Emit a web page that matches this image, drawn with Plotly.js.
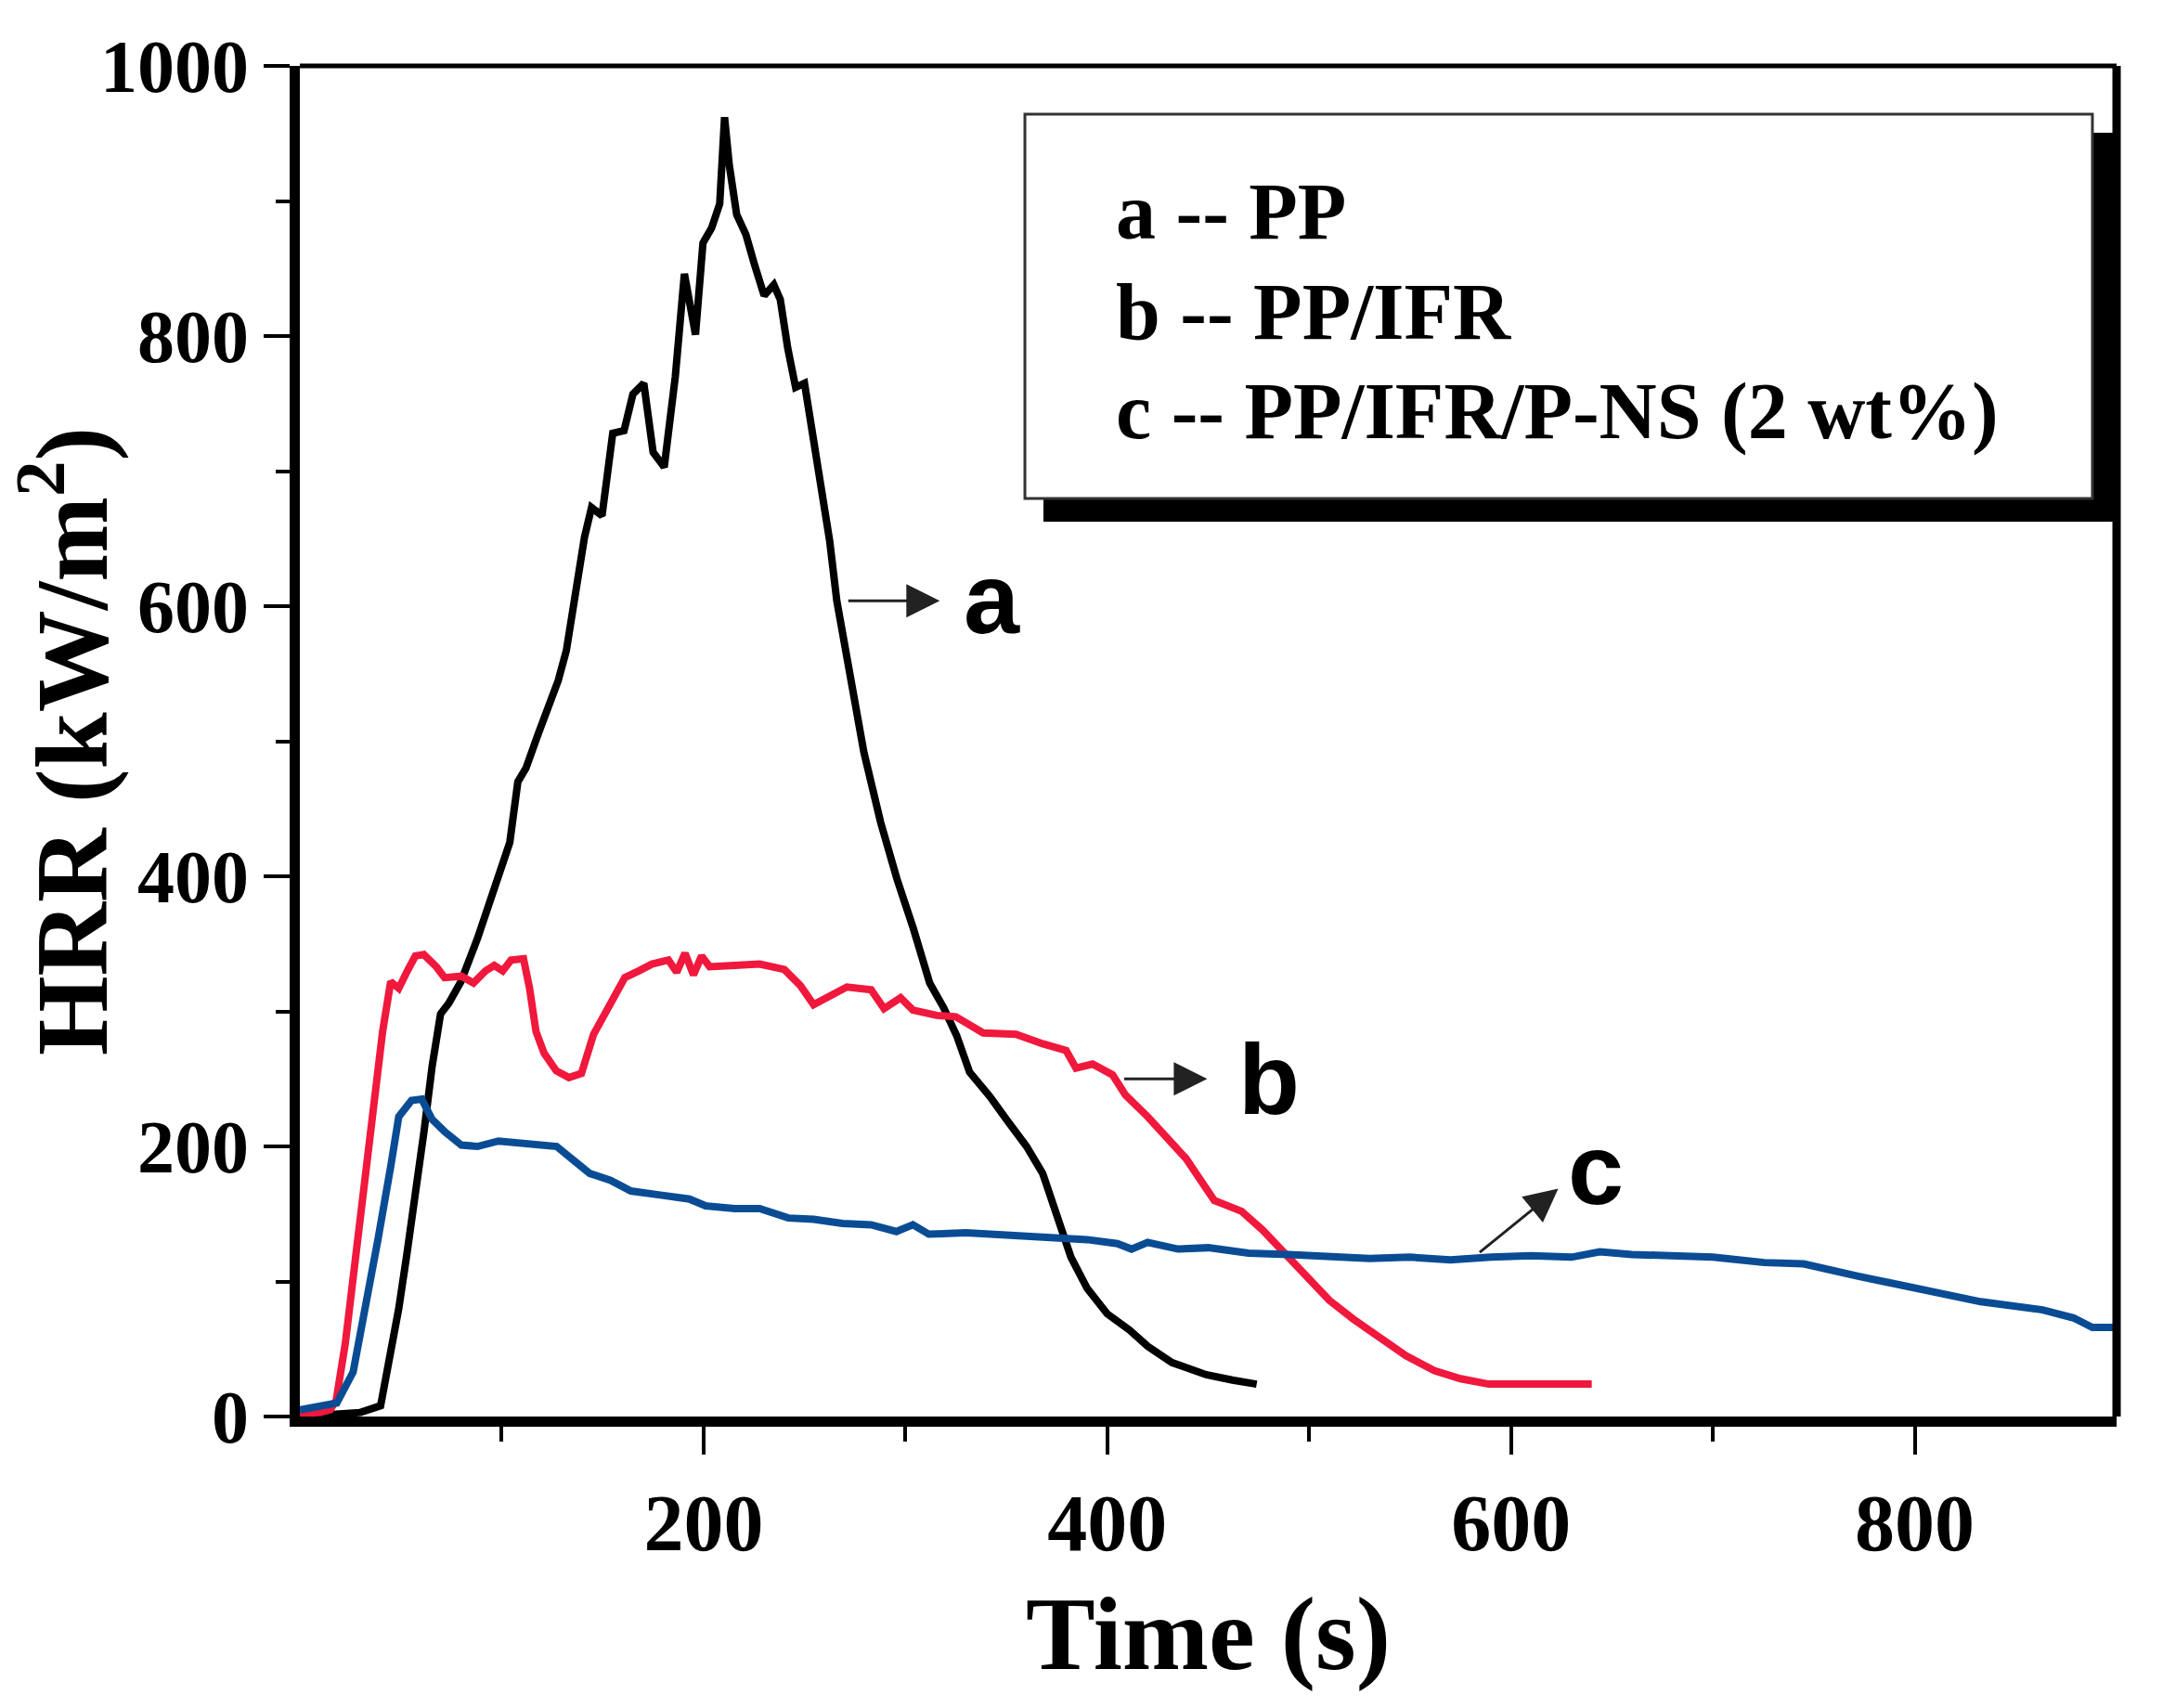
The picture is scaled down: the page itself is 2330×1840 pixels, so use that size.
<!DOCTYPE html>
<html>
<head>
<meta charset="utf-8">
<script src="https://cdn.plot.ly/plotly-3.0.1.min.js"></script>
<style>
  body { margin: 0; background: #fff; }
  #chart { width: 2330px; height: 1840px; }
</style>
</head>
<body>
<div id="chart"></div>
<script>
// a -- PP
const timeA = [0, 10, 20, 30, 40, 44, 49, 53, 57, 61.5, 65.5, 69.7, 73.8, 79.8, 88, 96, 104, 108, 112, 118, 124, 128, 132,
  137, 141, 144.5, 149.7, 155, 160.6, 165, 170.4, 175, 180.5, 186, 190.5, 196, 199.7, 204, 208, 210.4, 212.7, 216.4,
  221, 225, 230, 234.8, 238, 241.7, 245.6, 250, 254, 258, 262.5, 266, 272.8, 279.4, 287.7, 295.8, 304, 312, 318.8,
  325.4, 331.8, 341.8, 350, 360, 368, 375, 382, 390, 400, 411, 420, 432, 449, 462, 474];
const hrrA = [0, 1, 2, 3, 8, 40, 80, 120, 159, 211, 259, 298, 306, 322, 354, 390, 425, 470, 480, 505, 530, 545, 567,
  612, 651, 673, 667, 728, 730, 757, 765, 714, 703, 770, 846, 801, 869, 880, 898, 962, 927, 890,
  875, 854, 830, 838, 827, 791, 762, 765, 728, 688, 648, 604, 545, 492, 440, 398, 361, 321, 303,
  282, 255, 237, 220, 200, 180, 150, 118, 95, 76, 64, 52, 40, 31, 27, 24];

// b -- PP/IFR
const timeB = [0, 10, 15, 18, 22.5, 26, 30.5, 36.8, 41, 45, 49, 53.3, 57.2, 61.4, 67.6, 71.7, 80, 86, 92, 96.3, 100.5,
  104.6, 110.8, 113.8, 117, 121, 127, 133.3, 139.5, 145.5, 151.8, 156, 161, 168, 174.4, 182.6, 186.7, 190.8, 195,
  199, 203, 215.5, 227.8, 240, 248, 254.5, 262.7, 271, 283, 289.4, 297.6, 303.7, 315.5, 325, 338.5, 354.8, 368,
  379.6, 384.5, 392.7, 402.6, 409, 420, 430, 439, 453, 466.5, 477, 487, 495, 510, 522, 534, 548, 562, 575, 589, 610, 640];
const hrrB = [2, 3, 5, 12, 54, 100, 159, 238, 285, 322, 317, 330, 341, 342, 333, 325, 326, 321, 330, 334, 330,
  338, 339, 317, 285, 269, 256, 251, 254, 283, 301, 312, 325, 330, 335, 338, 329, 343, 327,
  341, 333, 334, 335, 331, 319, 305, 312, 318, 316, 302, 310, 301, 297, 296, 284, 283, 276,
  271, 258, 261, 253, 238, 222, 205, 191, 160, 152, 138, 122, 108, 86, 72, 59, 45, 34, 28, 24, 24, 24];

// c -- PP/IFR/P-NS (2 wt%)
const timeC = [0, 10, 18.3, 26.4, 32.7, 38.8, 45, 49, 55.3, 60.4, 65.5, 71.7, 80, 88, 98.4, 112.8, 127.2, 135.4,
  143.6, 153.8, 164, 178.5, 193, 201, 215.5, 227.8, 242, 254.5, 268.8, 283, 295.5, 303.7, 311.6, 330, 350, 370,
  390, 405, 412, 420, 435, 450, 470, 490, 510, 530, 550, 570, 590, 610, 630, 644, 660, 680, 700, 725.5, 745,
  771.5, 802, 832.7, 863.4, 878.7, 888, 898.7];
const hrrC = [5, 8, 10, 33, 80, 132, 185, 222, 234, 235, 220, 211, 201, 200, 204, 202, 200, 190,
  180, 175, 167, 164, 161, 156, 154, 154, 147, 146, 143, 142, 137, 142, 135, 136, 134, 133,
  131, 128, 124, 129, 124, 125, 121, 120, 119, 117, 118, 116, 118, 119, 118, 122, 120, 119, 118, 114, 113,
  104, 95, 85, 79, 73, 66, 66];

const legendLabels = ['a -- PP', 'b -- PP/IFR', 'c -- PP/IFR/P-NS (2 wt%)'];
const curveLabels = ['a', 'b', 'c'];
const xTickVals = [200, 400, 600, 800];
const xMinorVals = [100, 300, 500, 700];
const yTickVals = [0, 200, 400, 600, 800, 1000];
const yMinorVals = [100, 300, 500, 700, 900];

// where each curve label sits and where its arrow runs (tail on the curve, tip near the label)
const labelPos = [[343, 606], [480, 250], [642, 183]];
const arrowTail = [[271, 604], [407.7, 250], [583.8, 120.7]];
const arrowTip = [[317, 604], [449.5, 250], [623.4, 168.8]];

const colors = ['#000000', '#f0183c', '#0a4c94'];
const serif = 'Liberation Serif, Times New Roman, serif';
const sans = 'Liberation Sans, Arial, sans-serif';

const traces = [
  {x: timeA, y: hrrA, name: legendLabels[0]},
  {x: timeB, y: hrrB, name: legendLabels[1]},
  {x: timeC, y: hrrC, name: legendLabels[2]}
].map(function (t, i) {
  t.type = 'scatter';
  t.mode = 'lines';
  t.line = {color: colors[i], width: 8};
  return t;
});

const annotations = [];
curveLabels.forEach(function (lab, i) {
  annotations.push({
    x: arrowTip[i][0], y: arrowTip[i][1], xref: 'x', yref: 'y',
    ax: arrowTail[i][0], ay: arrowTail[i][1], axref: 'x', ayref: 'y',
    text: '', showarrow: true, arrowhead: 2, arrowsize: 2.4, arrowwidth: 3,
    arrowcolor: '#222', standoff: 0, startstandoff: 0
  });
  annotations.push({
    x: labelPos[i][0], y: labelPos[i][1], xref: 'x', yref: 'y',
    text: '<b>' + lab + '</b>', showarrow: false,
    font: {family: sans, size: 108, color: '#000'}
  });
});

const legendY = [0.8921, 0.8179, 0.7443];
legendLabels.forEach(function (lab, i) {
  annotations.push({
    x: 0.4481, y: legendY[i], xref: 'paper', yref: 'paper',
    xanchor: 'left', yanchor: 'middle', text: '<b>' + lab + '</b>',
    showarrow: false, font: {family: serif, size: 86, color: '#000'}
  });
});

const shapes = [
  // legend shadow and box
  {type: 'rect', xref: 'paper', yref: 'paper', x0: 0.4093, x1: 1.0, y0: 0.6625, y1: 0.9505,
    fillcolor: '#000', line: {width: 0}, layer: 'above'},
  {type: 'rect', xref: 'paper', yref: 'paper', x0: 0.3991, x1: 0.9867, y0: 0.6797, y1: 0.9643,
    fillcolor: '#fff', line: {color: '#333', width: 3}, layer: 'above'},
  // top and right frame
  {type: 'line', xref: 'paper', yref: 'paper', x0: 0, x1: 1, y0: 1, y1: 1,
    line: {color: '#000', width: 5}, layer: 'above'},
  {type: 'line', xref: 'paper', yref: 'paper', x0: 1, x1: 1, y0: 0, y1: 1,
    line: {color: '#000', width: 9}, layer: 'above'}
];

const layout = {
  width: 2330,
  height: 1840,
  margin: {l: 323, r: 50, t: 71, b: 314},
  paper_bgcolor: '#fff',
  plot_bgcolor: '#fff',
  showlegend: false,
  font: {family: serif, color: '#000'},
  xaxis: {
    range: [0, 900],
    tickmode: 'array', tickvals: xTickVals,
    ticks: 'outside', ticklen: 30, tickwidth: 4, tickcolor: '#000',
    minor: {tickmode: 'array', tickvals: xMinorVals, ticks: 'outside', ticklen: 16, tickwidth: 4, tickcolor: '#000', showgrid: false},
    showline: true, linewidth: 11, linecolor: '#000',
    showgrid: false, zeroline: false,
    tickfont: {family: serif, size: 86, weight: 'bold', color: '#000'},
    title: {text: '<b>Time (s)</b>', font: {family: serif, size: 112, color: '#000'}, standoff: 36}
  },
  yaxis: {
    range: [0, 1000],
    tickmode: 'array', tickvals: yTickVals,
    ticks: 'outside', ticklen: 28, tickwidth: 4, tickcolor: '#000',
    minor: {tickmode: 'array', tickvals: yMinorVals, ticks: 'outside', ticklen: 15, tickwidth: 4, tickcolor: '#000', showgrid: false},
    showline: true, linewidth: 11, linecolor: '#000',
    showgrid: false, zeroline: false,
    tickfont: {family: serif, size: 80, weight: 'bold', color: '#000'},
    title: {text: '<b>HRR (kW/m<sup>2</sup>)</b>', font: {family: serif, size: 110, color: '#000'}, standoff: 18}
  },
  annotations: annotations,
  shapes: shapes
};

Plotly.newPlot('chart', traces, layout, {staticPlot: true});
</script>
</body>
</html>
